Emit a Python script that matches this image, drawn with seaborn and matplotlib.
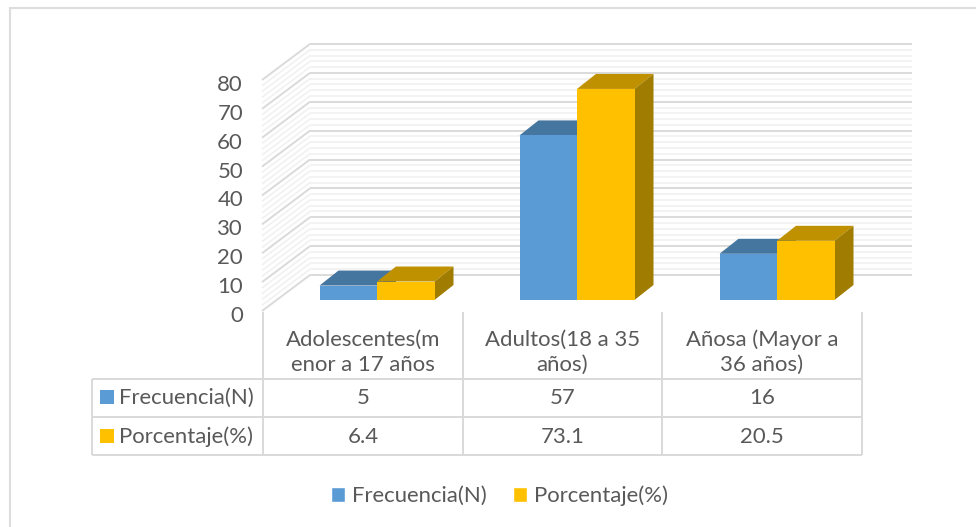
import matplotlib
matplotlib.use('Agg')
import matplotlib.pyplot as plt
from matplotlib.patches import Polygon, Rectangle
import pandas as pd
import seaborn as sns

categories = ['Adolescentes(m\nenor a 17 años', 'Adultos(18 a 35\naños)', 'Añosa (Mayor a\n36 años)']
frecuencia = [5, 57, 16]
porcentaje = [6.4, 73.1, 20.5]
frecuencia_txt = ['5', '57', '16']
porcentaje_txt = ['6.4', '73.1', '20.5']
series_names = ['Frecuencia(N)', 'Porcentaje(%)']
y_ticks = [0, 10, 20, 30, 40, 50, 60, 70, 80]
minor_ticks = [v for v in range(0, 81, 2) if v % 10]

W, H = 976, 527
BLUE, GOLD = '#5b9bd5', '#ffc000'
TEXT = '#595959'
FS = 15.9

sns.set_theme(style='white')
plt.rcParams['font.family'] = ['Lato', 'DejaVu Sans']

df = pd.DataFrame({
    'cat': categories * 2,
    'serie': [series_names[0]] * 3 + [series_names[1]] * 3,
    'valor': frecuencia + porcentaje,
})

fig = plt.figure(figsize=(W / 100, H / 100), dpi=100)
fig.patch.set_facecolor('white')

# background in pixel coordinates: border, walls, table
bg = fig.add_axes([0, 0, 1, 1])
bg.set_xlim(0, W)
bg.set_ylim(H, 0)
bg.axis('off')
# only the top and left edges of the chart frame are in the crop
bg.plot([9, W], [8, 8], color='#dddddd', lw=1.5, solid_capstyle='butt')
bg.plot([9.5, 9.5], [8, H], color='#dddddd', lw=1.5, solid_capstyle='butt')

px_unit = 231 / 80
for vals, col, lw in [(minor_ticks, '#f1f1f1', 1.2), (y_ticks, '#dadada', 1.4)]:
    for v in vals:
        y_back = 275 - v * px_unit
        y_front = 311 - v * px_unit
        bg.plot([310, 912], [y_back, y_back], color=col, lw=lw, solid_capstyle='butt')
        bg.plot([262, 310], [y_front, y_back], color=col, lw=lw, solid_capstyle='butt')

for v in y_ticks:
    bg.text(243, 316 - v * px_unit, str(v), ha='right', va='center', fontsize=FS, color=TEXT)

# table
line = dict(color='#d9d9d9', lw=1.4, solid_capstyle='butt')
for y in [378.5, 417, 455]:
    bg.plot([92, 862], [y, y], **line)
bg.plot([92, 92], [378.5, 455], **line)
for x in [263, 463, 662, 862]:
    bg.plot([x, x], [312, 455], **line)

centers = [363, 562.5, 762]
for cx, cat, a, b in zip(centers, categories, frecuencia_txt, porcentaje_txt):
    bg.text(cx, 352, cat, ha='center', va='center', fontsize=FS, color=TEXT, linespacing=1.32)
    bg.text(cx, 398, a, ha='center', va='center', fontsize=FS, color=TEXT)
    bg.text(cx, 437, b, ha='center', va='center', fontsize=FS, color=TEXT)
for y, name, col in [(397, series_names[0], BLUE), (436, series_names[1], GOLD)]:
    bg.add_patch(Rectangle((100, y - 7), 14, 14, fc=col, ec='none'))
    bg.text(119, y + 1, name, ha='left', va='center', fontsize=FS, color=TEXT)

# bars, same pixel frame as the front of the category axis
ax = fig.add_axes([277 / W, (H - 300) / H, 600 / W, 231 / H])
ax.patch.set_alpha(0)
sns.barplot(data=df, x='cat', y='valor', hue='serie', hue_order=series_names,
            palette=[BLUE, GOLD], width=0.575, gap=0, saturation=1, ax=ax, legend=True)
ax.set_xlim(-0.5, 2.5)
ax.set_ylim(0, 80)
ax.set_xlabel('')
ax.set_ylabel('')
ax.set_xticks([])
ax.set_yticks([])
sns.despine(ax=ax, left=True, bottom=True)

dx = 19 / 200
dy = 15 / px_unit
shades = [('#44769f', '#3d6a92'), ('#bf9000', '#a07c00')]
for k, cont in enumerate(ax.containers):
    for p in cont.patches:
        x0, w, h = p.get_x(), p.get_width(), p.get_height()
        p.set_zorder(3 + 2 * k)
        p.set_linewidth(0)
        top = [(x0, h), (x0 + w, h), (x0 + w + dx, h + dy), (x0 + dx, h + dy)]
        side = [(x0 + w, 0), (x0 + w + dx, dy), (x0 + w + dx, h + dy), (x0 + w, h)]
        ax.add_patch(Polygon(top, fc=shades[k][0], ec='none', zorder=2 + 2 * k, clip_on=False))
        ax.add_patch(Polygon(side, fc=shades[k][1], ec='none', zorder=2 + 2 * k, clip_on=False))

handles, labels = ax.get_legend_handles_labels()
ax.legend(handles, labels, ncol=2, frameon=False, loc='center',
          bbox_to_anchor=(499.5 / W, (H - 496) / H), bbox_transform=fig.transFigure,
          prop={'family': ['Lato', 'DejaVu Sans'], 'size': FS}, labelcolor=TEXT,
          handlelength=0.65, handleheight=0.65, handletextpad=0.3, columnspacing=1.2)

fig.savefig('out.png', dpi=100)
